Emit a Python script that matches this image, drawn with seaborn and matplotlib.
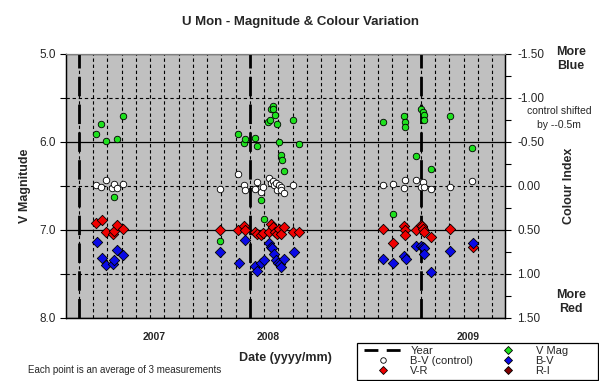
import numpy as np
import pandas as pd
import matplotlib
matplotlib.use("Agg")
import matplotlib.pyplot as plt
from matplotlib.lines import Line2D
from matplotlib.patches import Rectangle
from matplotlib.ticker import MultipleLocator, FormatStrFormatter
import seaborn as sns

# x values are months counted from Jan 2007 (0 = 2007/01)
vmag_month = [1.17, 1.59, 1.89, 2.44, 2.67, 3.07,
              9.89, 11.14, 11.58, 11.63, 12.35, 12.49, 12.75, 12.96, 13.28, 13.40, 13.45,
              13.59, 13.64, 13.73, 13.89, 14.04, 14.15, 14.22, 14.39, 15.02, 15.44,
              21.33, 22.04, 22.79, 22.86, 22.88, 23.63, 24.00, 24.12, 24.19, 24.21,
              24.68, 26.04, 27.58]
vmag = [5.91, 5.80, 5.99, 6.63, 5.97, 5.71,
        7.13, 5.91, 6.01, 5.97, 5.95, 6.05, 6.66, 6.87, 5.77, 5.75, 5.62,
        5.59, 5.63, 5.69, 5.80, 6.00, 6.15, 6.20, 6.33, 5.75, 6.02,
        5.77, 6.82, 5.71, 5.77, 5.83, 6.16, 5.625, 5.66, 5.69, 5.75,
        6.31, 5.71, 6.07]

bv_ctrl_month = [1.17, 1.59, 1.89, 2.34, 2.44, 2.67, 3.07,
                 9.89, 11.14, 11.60, 11.63, 12.35, 12.49, 12.75, 12.93, 13.31, 13.45,
                 13.59, 13.68, 13.82, 13.89, 14.06, 14.18, 14.20, 14.36, 15.02,
                 21.33, 22.04, 22.83, 22.86, 23.63, 24.00, 24.12, 24.19, 24.68, 26.01, 27.58]
bv_ctrl = [-0.015, 0.01, -0.065, 0.02, -0.026, 0.023, -0.026,
           0.03, -0.14, -0.01, 0.04, 0.03, -0.04, 0.065, 0.01, -0.09, -0.03,
           -0.06, -0.01, -0.03, 0.04, -0.01, 0.01, 0.045, 0.075, -0.01,
           -0.015, -0.026, 0.02, -0.07, -0.065, 0.01, -0.05, 0.01, 0.03, 0.01, -0.06]

vr_month = [1.21, 1.64, 1.92, 2.41, 2.48, 2.69, 3.11,
            9.92, 11.16, 11.60, 11.67, 12.37, 12.51, 12.79, 12.93, 13.33, 13.47,
            13.59, 13.73, 13.89, 14.01, 14.15, 14.41, 15.04, 15.46,
            21.35, 22.06, 22.83, 22.88, 22.88, 23.67, 23.98, 24.05, 24.14, 24.23,
            24.72, 26.06, 27.63]
vr = [0.42, 0.39, 0.52, 0.54, 0.51, 0.44, 0.49,
      0.50, 0.50, 0.46, 0.50, 0.52, 0.54, 0.56, 0.53, 0.52, 0.435,
      0.47, 0.52, 0.54, 0.49, 0.55, 0.47, 0.52, 0.52,
      0.49, 0.65, 0.45, 0.50, 0.56, 0.50, 0.44, 0.46, 0.485, 0.52,
      0.58, 0.49, 0.69]

bv_month = [1.24, 1.64, 1.94, 2.41, 2.48, 2.69, 3.11,
            9.92, 11.21, 11.63, 12.37, 12.51, 12.79, 13.00, 13.35, 13.45, 13.54,
            13.68, 13.82, 13.96, 14.11, 14.20, 14.41, 15.07,
            21.35, 22.06, 22.83, 22.93, 23.65, 23.98, 24.12, 24.23, 24.25, 24.72,
            26.04, 27.63]
bv = [0.64, 0.82, 0.90, 0.885, 0.84, 0.73, 0.78,
      0.75, 0.87, 0.61, 0.905, 0.97, 0.875, 0.84, 0.65, 0.69, 0.71,
      0.77, 0.84, 0.87, 0.885, 0.92, 0.83, 0.75,
      0.83, 0.87, 0.79, 0.83, 0.68, 0.68, 0.69, 0.71, 0.77, 0.98,
      0.74, 0.65]

ri_month = [24.05]
ri = [0.47]

year_starts = [0, 12, 24]
year_label_pos = [5.3, 13.3, 27.3]
year_labels = ["2007", "2008", "2009"]

GREEN = "#1EE01E"
BLUE = "#0A0AE6"
RED = "#F00000"
DARKRED = "#800000"
BG = "#C0C0C0"

sns.set_style("white")
plt.rcParams["font.family"] = ["Liberation Sans", "DejaVu Sans"]

fig = plt.figure(figsize=(5.99, 3.81), dpi=100)
ax = fig.add_axes([66 / 599, 1 - 318 / 381, 439 / 599, 264 / 381])
ax.set_facecolor(BG)
ax2 = ax.twinx()

# month grid + year markers
xmin, xmax = -0.9, 29.9
ax.set_xlim(xmin, xmax)
ax.set_xticks(np.arange(0, 30), minor=True)
ax.set_xticks(year_label_pos)
ax.set_xticklabels(year_labels, fontsize=7.5, fontweight="bold")
ax.tick_params(axis="x", which="major", length=0, pad=10)
ax.tick_params(axis="x", which="minor", length=4, width=0.8, color="black", direction="out")
ax.grid(False)
ax.xaxis.grid(True, which="minor", color="black", ls=(0, (3, 2.5)), lw=0.8)
for yr in year_starts:
    ax.axvline(yr, color="black", lw=2.0, ls=(0, (7, 3)), zorder=3)

ax.set_ylim(8.0, 5.0)
ax.yaxis.set_major_locator(MultipleLocator(1.0))
ax.yaxis.set_minor_locator(MultipleLocator(0.5))
ax.yaxis.set_major_formatter(FormatStrFormatter("%.1f"))
ax.yaxis.grid(True, which="major", color="black", ls="-", lw=0.9)
ax.yaxis.grid(True, which="minor", color="black", ls=(0, (3, 2.5)), lw=0.8)
ax.tick_params(axis="y", which="both", length=4, width=0.8, color="black",
               direction="out", labelsize=8.5, pad=3, left=True)
ax.tick_params(axis="y", which="minor", labelleft=False)
ax.set_axisbelow(True)

ax2.set_ylim(1.5, -1.5)
ax2.yaxis.set_major_locator(MultipleLocator(0.5))
ax2.yaxis.set_minor_locator(MultipleLocator(0.25))
ax2.yaxis.set_major_formatter(FormatStrFormatter("%.2f"))
ax2.tick_params(axis="y", which="both", length=4, width=0.8, color="black",
                direction="out", labelsize=8.5, pad=5, right=True)
ax2.grid(False)

for a in (ax, ax2):
    for side in ("left", "bottom", "right"):
        a.spines[side].set_color("black")
        a.spines[side].set_linewidth(0.9)
    a.spines["top"].set_color("#808080")
    a.spines["top"].set_linewidth(0.8)

ms_o, ms_d = 22, 28
sns.scatterplot(data=pd.DataFrame({"m": vmag_month, "v": vmag}), x="m", y="v", ax=ax,
                marker="o", s=ms_o, color=GREEN, edgecolor="black", linewidth=0.6,
                legend=False, zorder=4)
sns.scatterplot(data=pd.DataFrame({"m": bv_ctrl_month, "v": bv_ctrl}), x="m", y="v", ax=ax2,
                marker="o", s=ms_o, color="white", edgecolor="black", linewidth=0.6,
                legend=False, zorder=4)
sns.scatterplot(data=pd.DataFrame({"m": ri_month, "v": ri}), x="m", y="v", ax=ax2,
                marker="D", s=ms_d, color=DARKRED, edgecolor="black", linewidth=0.6,
                legend=False, zorder=4)
sns.scatterplot(data=pd.DataFrame({"m": vr_month, "v": vr}), x="m", y="v", ax=ax2,
                marker="D", s=ms_d, color=RED, edgecolor="black", linewidth=0.6,
                legend=False, zorder=5)
sns.scatterplot(data=pd.DataFrame({"m": bv_month, "v": bv}), x="m", y="v", ax=ax2,
                marker="D", s=ms_d, color=BLUE, edgecolor="black", linewidth=0.6,
                legend=False, zorder=5)
ax2.set_xlim(xmin, xmax)

ax.set_xlabel("Date (yyyy/mm)", fontsize=9, fontweight="bold", labelpad=7)
ax.set_ylabel("V Magnitude", fontsize=9, fontweight="bold", labelpad=6)
ax2.set_ylabel("Colour Index", fontsize=9, fontweight="bold", labelpad=13)

fig.text(300 / 599, 1 - 22 / 381, "U Mon - Magnitude & Colour Variation",
         ha="center", va="center", fontsize=9.5, fontweight="bold")
fig.text(571 / 599, 1 - 59 / 381, "More\nBlue", ha="center", va="center",
         fontsize=9, fontweight="bold", linespacing=1.15)
fig.text(571 / 599, 1 - 302 / 381, "More\nRed", ha="center", va="center",
         fontsize=9, fontweight="bold", linespacing=1.15)
fig.text(559 / 599, 1 - 118 / 381, "control shifted\nby --0.5m", ha="center", va="center",
         fontsize=7.5, linespacing=1.6)
fig.text(28 / 599, 1 - 370 / 381, "Each point is an average of 3 measurements",
         ha="left", va="center", fontsize=7)

handles = [
    Line2D([], [], color="black", lw=2.0, ls=(0, (5, 3))),
    Line2D([], [], ls="", marker="o", ms=4, mfc="white", mec="black", mew=0.6),
    Line2D([], [], ls="", marker="D", ms=4, mfc=RED, mec="black", mew=0.6),
    Line2D([], [], ls="", marker="D", ms=4, mfc=GREEN, mec="black", mew=0.6),
    Line2D([], [], ls="", marker="D", ms=4, mfc=BLUE, mec="black", mew=0.6),
    Line2D([], [], ls="", marker="D", ms=4, mfc=DARKRED, mec="black", mew=0.6),
]
labels = ["Year", "B-V (control)", "V-R", "V Mag", "B-V", "R-I"]
fig.legend(handles, labels, ncol=2, loc="upper left",
           bbox_to_anchor=(361 / 599, 1 - 343 / 381), fontsize=8,
           frameon=False, handlelength=3.5, handletextpad=0.7, labelspacing=0.0,
           columnspacing=1.4, borderpad=0.25, borderaxespad=0)
fig.add_artist(Rectangle((357 / 599, 1 / 381), 241 / 599, 37 / 381,
                         transform=fig.transFigure, fill=False,
                         edgecolor="black", lw=0.9))

fig.savefig("out.png", dpi=100, facecolor="white")
